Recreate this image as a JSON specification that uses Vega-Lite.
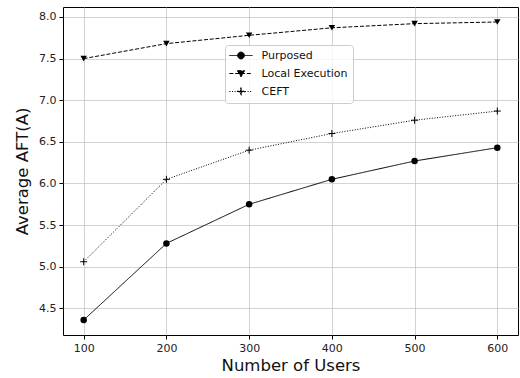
{
  "$schema": "https://vega.github.io/schema/vega-lite/v6.json",
  "width": 455,
  "height": 328,
  "autosize": {"type": "none"},
  "padding": {"left": 63, "top": 7, "right": 2, "bottom": 43},
  "background": "white",
  "config": {
    "font": "DejaVu Sans",
    "view": {"stroke": "black", "strokeWidth": 1},
    "axis": {
      "domain": false,
      "grid": true,
      "gridColor": "#c8c8c8",
      "gridWidth": 0.8,
      "tickColor": "black",
      "tickSize": 4,
      "labelFontSize": 11,
      "labelColor": "#222",
      "titleFontSize": 16.5,
      "titleFontWeight": "normal",
      "titleColor": "#111"
    }
  },
  "data": {
    "values": [
      {"users": 100, "aft": 4.36, "series": "Purposed"},
      {"users": 200, "aft": 5.28, "series": "Purposed"},
      {"users": 300, "aft": 5.75, "series": "Purposed"},
      {"users": 400, "aft": 6.05, "series": "Purposed"},
      {"users": 500, "aft": 6.27, "series": "Purposed"},
      {"users": 600, "aft": 6.43, "series": "Purposed"},
      {"users": 100, "aft": 7.50, "series": "Local Execution"},
      {"users": 200, "aft": 7.68, "series": "Local Execution"},
      {"users": 300, "aft": 7.78, "series": "Local Execution"},
      {"users": 400, "aft": 7.87, "series": "Local Execution"},
      {"users": 500, "aft": 7.92, "series": "Local Execution"},
      {"users": 600, "aft": 7.94, "series": "Local Execution"},
      {"users": 100, "aft": 5.06, "series": "CEFT"},
      {"users": 200, "aft": 6.05, "series": "CEFT"},
      {"users": 300, "aft": 6.40, "series": "CEFT"},
      {"users": 400, "aft": 6.60, "series": "CEFT"},
      {"users": 500, "aft": 6.76, "series": "CEFT"},
      {"users": 600, "aft": 6.87, "series": "CEFT"}
    ]
  },
  "encoding": {
    "x": {
      "field": "users", "type": "quantitative",
      "scale": {"domain": [75, 625], "nice": false, "zero": false},
      "axis": {"values": [100, 200, 300, 400, 500, 600], "title": "Number of Users", "titlePadding": 4, "labelPadding": 3}
    },
    "y": {
      "field": "aft", "type": "quantitative",
      "scale": {"domain": [4.18, 8.12], "nice": false, "zero": false},
      "axis": {"values": [4.5, 5.0, 5.5, 6.0, 6.5, 7.0, 7.5, 8.0], "format": ".1f", "title": "Average AFT(A)", "titlePadding": 8, "labelPadding": 3}
    }
  },
  "layer": [
    {
      "mark": {"type": "line", "color": "black", "strokeWidth": 1},
      "encoding": {
        "strokeDash": {
          "field": "series", "type": "nominal",
          "scale": {"domain": ["Purposed", "Local Execution", "CEFT"], "range": [[1, 0], [4, 1.8], [1, 1.6]]},
          "legend": {
            "title": null,
            "orient": "none",
            "legendX": 162,
            "legendY": 38,
            "padding": 5,
            "fillColor": "rgba(255,255,255,0.8)",
            "strokeColor": "#cccccc",
            "cornerRadius": 3,
            "labelFontSize": 11,
            "labelColor": "#111",
            "symbolSize": 64,
            "symbolOffset": 5.5,
            "labelOffset": 15,
            "rowPadding": 6,
            "symbolStrokeColor": "black",
            "symbolStrokeWidth": 1,
            "encode": {
              "symbols": {
                "update": {
                  "shape": {"signal": "datum.value === 'Purposed' ? 'M-2.9,0H2.9M0.85,0A0.85,0.85,0,1,1,-0.85,0A0.85,0.85,0,1,1,0.85,0Z' : datum.value === 'Local Execution' ? 'M-2.9,0H2.9M-0.9,-0.7L0.9,-0.7L0,0.85Z' : 'M-2.9,0H2.9M-0.9,-0.125H0.9V0.125H-0.9ZM-0.125,-0.9H0.125V0.9H-0.125Z'"},
                  "fill": {"value": "black"},
                  "stroke": {"value": "black"}
                }
              }
            }
          }
        }
      }
    },
    {
      "transform": [{"filter": "datum.series !== 'CEFT'"}],
      "mark": {"type": "point", "filled": true, "color": "black", "opacity": 1},
      "encoding": {
        "shape": {
          "field": "series", "type": "nominal",
          "scale": {"domain": ["Purposed", "Local Execution"], "range": ["circle", "triangle-down"]},
          "legend": null
        },
        "size": {"value": 42}
      }
    },
    {
      "transform": [{"filter": "datum.series === 'CEFT'"}],
      "mark": {"type": "point", "filled": false, "color": "black", "opacity": 1, "strokeWidth": 1, "shape": "M-1,0H1M0,-1V1"},
      "encoding": {
        "size": {"value": 49}
      }
    }
  ]
}
